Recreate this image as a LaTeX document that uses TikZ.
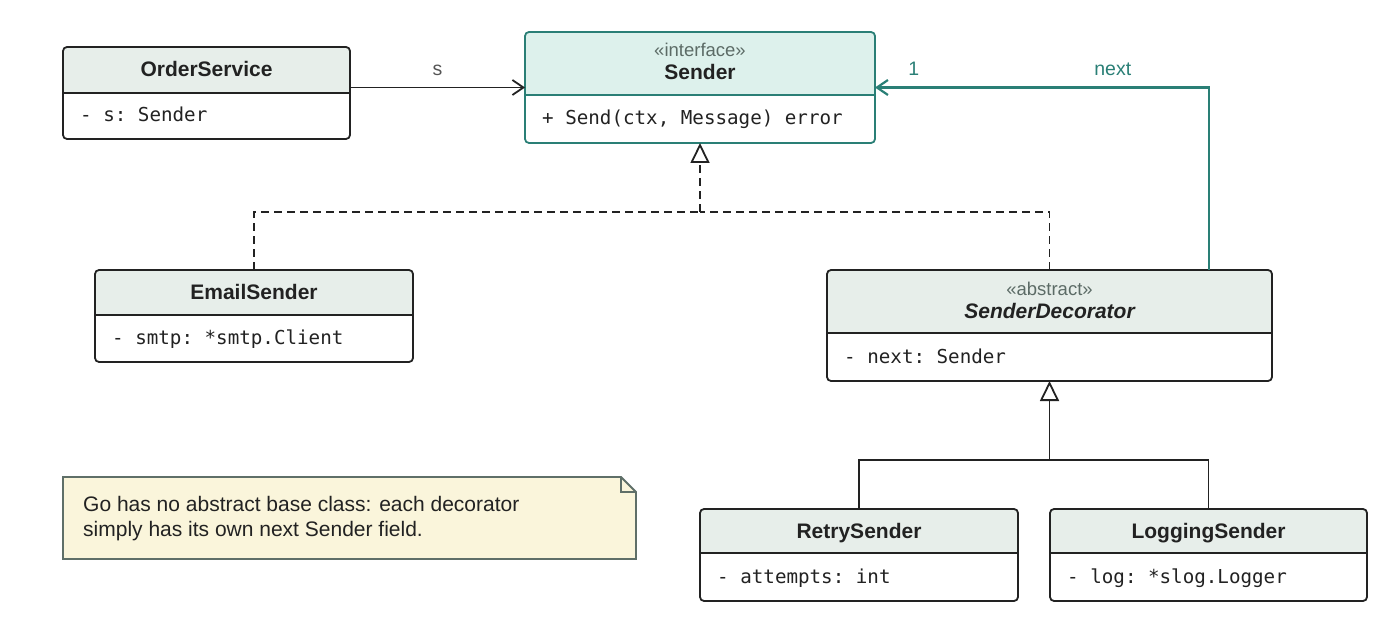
\documentclass[tikz,border=0pt]{standalone}
\usepackage{fontspec}
\setmainfont{Liberation Sans}
\setmonofont{DejaVu Sans Mono}
\usetikzlibrary{arrows.meta}
\definecolor{ink}{HTML}{222222}
\definecolor{hdrgrey}{HTML}{E7EEEA}
\definecolor{hdrteal}{HTML}{DDF1EC}
\definecolor{tealline}{HTML}{2A7F76}
\definecolor{stereogrey}{HTML}{5C6B66}
\definecolor{notefill}{HTML}{FAF5DB}
\definecolor{noteline}{HTML}{5F6F68}
\definecolor{lblgrey}{HTML}{555555}

\tikzset{
	classbox/.style n args={3}{draw=#3, line width=1.8pt, rounded corners=4pt,
		fill=white, inner sep=0pt, outer sep=0pt,
		path picture={
			\fill[#2, sharp corners] (path picture bounding box.north west)
				rectangle ([yshift=-#1]path picture bounding box.north east);
			\draw[#3, line width=1.8pt] ([yshift=-#1]path picture bounding box.north west)
				-- ([yshift=-#1]path picture bounding box.north east);
		}},
	clsname/.style={font=\fontsize{21}{24}\selectfont\bfseries, text=ink, inner sep=0pt, anchor=base},
	stereo/.style={font=\fontsize{18.5}{21}\selectfont, text=stereogrey, inner sep=0pt, anchor=base},
	attr/.style={font=\ttfamily\fontsize{19.2}{23}\selectfont, text=ink, inner sep=0pt, anchor=base west},
	lbl/.style={font=\fontsize{19.5}{22}\selectfont, inner sep=0pt, anchor=base},
	barb/.style={-{Straight Barb[length=11pt, width=15pt]}},
	assoc/.style={draw=ink, line width=1.8pt, barb},
	realize/.style={draw=ink, line width=1.8pt, dash pattern=on 8pt off 5pt},
	inherit/.style={draw=ink, line width=1.8pt},
	hollow/.style={-{Triangle[open, fill=white, length=20pt, width=19pt]}}
}

\begin{document}
\begin{tikzpicture}[x=1pt, y=-1pt]
	\useasboundingbox (0,0) rectangle (1400,636);

	% OrderService
	\node[classbox={46pt}{hdrgrey}{ink}, minimum width=287pt, minimum height=92pt] (os) at (206.5,93) {};
	\node[clsname] (os-name) at ([yshift=-30pt]os.north) {OrderService};
	\node[attr] (os-attr) at ([xshift=17pt,yshift=17.5pt]os.south west) {- s: Sender};

	% Sender
	\node[classbox={63pt}{hdrteal}{tealline}, minimum width=350pt, minimum height=111pt] (sender) at (700,87.5) {};
	\node[stereo] (sender-st) at ([yshift=-25pt]sender.north) {«interface»};
	\node[clsname] (sender-name) at ([yshift=-48pt]sender.north) {Sender};
	\node[attr] (sender-op) at ([xshift=17pt,yshift=18pt]sender.south west) {+ Send(ctx, Message) error};

	% EmailSender
	\node[classbox={45pt}{hdrgrey}{ink}, minimum width=318pt, minimum height=92pt] (email) at (254,316) {};
	\node[clsname] (email-name) at ([yshift=-29.5pt]email.north) {EmailSender};
	\node[attr] (email-attr) at ([xshift=17pt,yshift=18pt]email.south west) {- smtp: *smtp.Client};

	% SenderDecorator
	\node[classbox={63pt}{hdrgrey}{ink}, minimum width=445pt, minimum height=111pt] (deco) at (1049.5,325.5) {};
	\node[stereo] (deco-st) at ([yshift=-25.5pt]deco.north) {«abstract»};
	\node[clsname, font=\fontsize{21}{24}\selectfont\bfseries\itshape] (deco-name) at ([yshift=-48.5pt]deco.north) {SenderDecorator};
	\node[attr] (deco-attr) at ([xshift=17pt,yshift=18pt]deco.south west) {- next: Sender};

	% RetrySender, LoggingSender
	\node[classbox={44pt}{hdrgrey}{ink}, minimum width=318pt, minimum height=92pt] (retry) at (859,555) {};
	\node[clsname] (retry-name) at ([yshift=-29pt]retry.north) {RetrySender};
	\node[attr] (retry-attr) at ([xshift=17pt,yshift=18pt]retry.south west) {- attempts: int};

	\node[classbox={44pt}{hdrgrey}{ink}, minimum width=317pt, minimum height=92pt] (logging) at (1208.5,555) {};
	\node[clsname] (logging-name) at ([yshift=-29pt]logging.north) {LoggingSender};
	\node[attr] (logging-attr) at ([xshift=17pt,yshift=18pt]logging.south west) {- log: *slog.Logger};

	% note
	\node[minimum width=573pt, minimum height=82pt, inner sep=0pt, outer sep=0pt] (note) at (349.5,518) {};
	\filldraw[fill=notefill, draw=noteline, line width=1.8pt]
		(note.south west) -- (note.north west) -- ([xshift=-15pt]note.north east)
		-- ([yshift=-15pt]note.north east) -- (note.south east) -- cycle;
	\draw[noteline, line width=1.5pt]
		([xshift=-15pt]note.north east) |- ([yshift=-15pt]note.north east);
	\node[font=\fontsize{21}{25}\selectfont, text=ink, align=left, inner sep=0pt, anchor=north west]
		(note-text) at ([xshift=20pt,yshift=-19pt]note.north west)
		{Go has no abstract base class: each decorator\\simply has its own next Sender field.};

	% connectors
	\draw[assoc] (os.east |- sender.west) -- (sender.west)
		node[lbl, text=lblgrey, midway, yshift=12pt] (s-lbl) {s};

	\coordinate (rj) at (700,212);
	\draw[realize] (email.north) |- (rj);
	\draw[realize] (deco.north) |- (rj);
	\draw[realize, hollow] (rj) -- (sender.south);

	\draw[tealline, line width=2.2pt, barb]
		([xshift=-63pt]deco.north east) |- (sender.east)
		node[lbl, text=tealline, pos=0.644, yshift=12pt] (next-lbl) {next}
		node[lbl, text=tealline, pos=0.942, yshift=12pt] (one-lbl) {1};

	\coordinate (gj) at (1049.5,460);
	\draw[inherit] (retry.north) |- (gj);
	\draw[inherit] (logging.north) |- (gj);
	\draw[inherit, hollow] (gj) -- (deco.south);
\end{tikzpicture}
\end{document}
